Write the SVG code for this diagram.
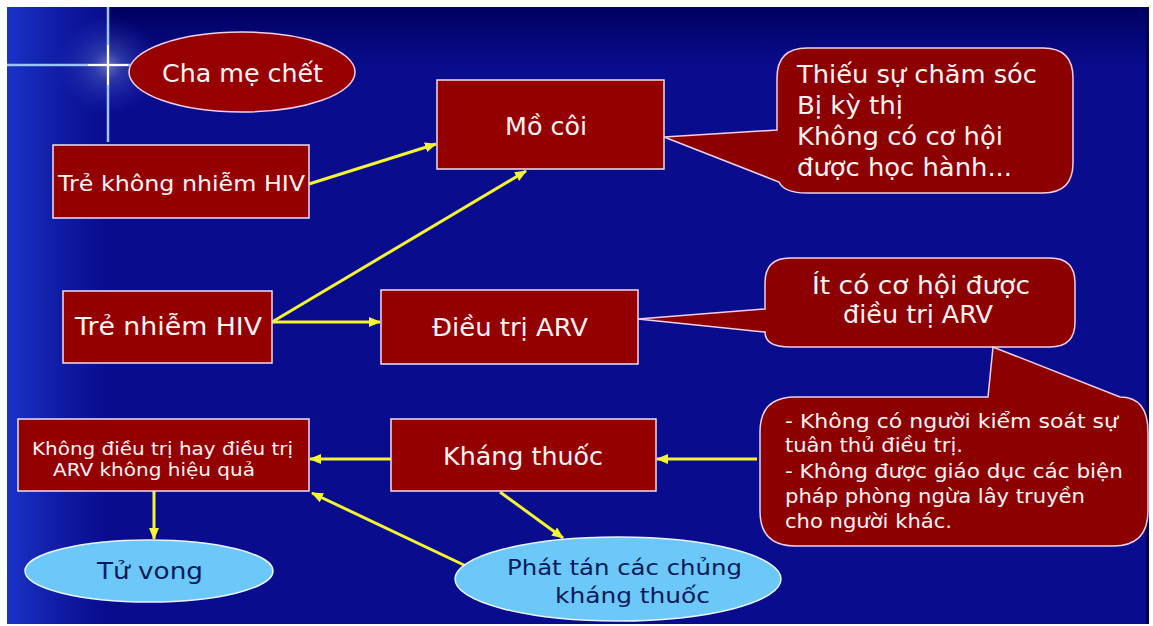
<svg xmlns="http://www.w3.org/2000/svg" width="1153" height="626" viewBox="0 0 1153 626">
<defs>
<linearGradient id="bgL" x1="0" y1="0" x2="1" y2="0">
<stop offset="0" stop-color="#1a34c8"/>
<stop offset="1" stop-color="#1228b4" stop-opacity="0"/>
</linearGradient>
<linearGradient id="bgT" x1="0" y1="0" x2="0" y2="1">
<stop offset="0" stop-color="#000060"/>
<stop offset="1" stop-color="#000060" stop-opacity="0"/>
</linearGradient>
<radialGradient id="glow">
<stop offset="0" stop-color="#ffffff" stop-opacity="0.9"/>
<stop offset="0.3" stop-color="#a0c8ff" stop-opacity="0.5"/>
<stop offset="1" stop-color="#4060ff" stop-opacity="0"/>
</radialGradient>
<marker id="ah" viewBox="0 0 12 10" refX="11" refY="5" markerWidth="12" markerHeight="10" markerUnits="userSpaceOnUse" orient="auto">
<path d="M0,0 L12,5 L0,10 Z" fill="#f4f430"/>
</marker>
<style>
.box{fill:#940000;stroke:#f0e0f0;stroke-width:1.5}
.call{fill:#8c0000;stroke:#f0d0e8;stroke-width:1.5}
.ell{fill:#960000;stroke:#f0d0e8;stroke-width:1.5}
.lb{fill:#6cc8f8;stroke:#e8f4ff;stroke-width:1.5}
.t{font-family:"DejaVu Sans","Liberation Sans",sans-serif;fill:#fff4f4}
.d{font-family:"DejaVu Sans","Liberation Sans",sans-serif;fill:#0a1a5a}
.ar{stroke:#f4f430;stroke-width:3;fill:none;marker-end:url(#ah)}
</style>
</defs>
<rect width="1153" height="626" fill="#ffffff"/>
<rect x="7" y="7" width="1142" height="617" fill="#0a0c8e"/>
<rect x="7" y="7" width="100" height="617" fill="url(#bgL)"/>
<rect x="107" y="7" width="1042" height="60" fill="url(#bgT)"/>
<rect x="1146" y="7" width="3" height="617" fill="#000050"/>
<g id="star">
<rect x="58" y="15" width="100" height="100" fill="url(#glow)" opacity="0.45"/>
<line x1="108" y1="7" x2="108" y2="142" stroke="#9cc4ff" stroke-width="2.5"/>
<line x1="7" y1="65" x2="130" y2="65" stroke="#9cc4ff" stroke-width="2.5"/>
<line x1="108" y1="45" x2="108" y2="85" stroke="#ffffff" stroke-width="2"/>
<line x1="88" y1="65" x2="128" y2="65" stroke="#ffffff" stroke-width="2"/>
</g>
<g id="connectors">
<line class="ar" x1="309" y1="184" x2="436" y2="144"/>
<line class="ar" x1="272" y1="322" x2="526" y2="171"/>
<line class="ar" x1="272" y1="322" x2="380" y2="322"/>
<line class="ar" x1="391" y1="459" x2="310" y2="459"/>
<line class="ar" x1="757" y1="459" x2="657" y2="459"/>
<line class="ar" x1="154" y1="491" x2="154" y2="539"/>
<line class="ar" x1="500" y1="492" x2="563" y2="538"/>
<line class="ar" x1="466" y1="566" x2="312" y2="493"/>
</g>
<g id="n-chame">
<ellipse class="ell" cx="242" cy="72" rx="113" ry="40"/>
<text class="t" x="162" y="82" font-size="25" textLength="161" lengthAdjust="spacingAndGlyphs">Cha mẹ chết</text>
</g>
<g id="n-trekhong">
<rect class="box" x="53" y="145" width="256" height="73"/>
<text class="t" x="58" y="191" font-size="22" textLength="247" lengthAdjust="spacingAndGlyphs">Trẻ không nhiễm HIV</text>
</g>
<g id="n-mocoi">
<rect class="box" x="437" y="80" width="227" height="89"/>
<text class="t" x="505" y="135" font-size="24" textLength="82" lengthAdjust="spacingAndGlyphs">Mồ côi</text>
</g>
<g id="n-trenhiem">
<rect class="box" x="63" y="291" width="209" height="72"/>
<text class="t" x="75" y="335" font-size="24" textLength="187" lengthAdjust="spacingAndGlyphs">Trẻ nhiễm HIV</text>
</g>
<g id="n-dieutri">
<rect class="box" x="381" y="290" width="257" height="74"/>
<text class="t" x="432" y="336" font-size="24" textLength="156" lengthAdjust="spacingAndGlyphs">Điều trị ARV</text>
</g>
<g id="n-khongdieutri">
<rect class="box" x="18" y="419" width="291" height="72"/>
<text class="t" x="32" y="455" font-size="18" textLength="261" lengthAdjust="spacingAndGlyphs">Không điều trị hay điều trị</text>
<text class="t" x="53" y="476" font-size="18" textLength="202" lengthAdjust="spacingAndGlyphs">ARV  không hiệu quả</text>
</g>
<g id="n-khang">
<rect class="box" x="391" y="419" width="265" height="72"/>
<text class="t" x="443" y="465" font-size="24" textLength="160" lengthAdjust="spacingAndGlyphs">Kháng thuốc</text>
</g>
<g id="n-tuvong">
<ellipse class="lb" cx="149" cy="571" rx="124" ry="31"/>
<text class="d" x="97" y="579" font-size="23" textLength="106" lengthAdjust="spacingAndGlyphs">Tử vong</text>
</g>
<g id="n-phattan">
<ellipse class="lb" cx="618" cy="579" rx="163" ry="42"/>
<text class="d" x="507" y="575" font-size="22" textLength="235" lengthAdjust="spacingAndGlyphs">Phát tán các chủng</text>
<text class="d" x="555" y="603" font-size="22" textLength="155" lengthAdjust="spacingAndGlyphs">kháng thuốc</text>
</g>
<g id="n-callout1">
<path class="call" stroke="none" d="M807 48 H1043 Q1073 48 1073 78 V163 Q1073 193 1043 193 H807 Q784 193 779 182 L664 137 L777 130 V78 Q777 48 807 48 Z"/>
<text class="t" x="797" y="83" font-size="24" textLength="240" lengthAdjust="spacingAndGlyphs">Thiếu sự chăm sóc</text>
<text class="t" x="797" y="114" font-size="24" textLength="106" lengthAdjust="spacingAndGlyphs">Bị kỳ thị</text>
<text class="t" x="797" y="145" font-size="24" textLength="206" lengthAdjust="spacingAndGlyphs">Không có cơ hội</text>
<text class="t" x="797" y="176" font-size="24" textLength="215" lengthAdjust="spacingAndGlyphs">được học hành...</text>
</g>
<g id="n-callout2">
<path class="call" d="M790 258 H1050 Q1075 258 1075 283 V322 Q1075 347 1050 347 H790 Q765 347 765 332 L638 319 L765 309 V283 Q765 258 790 258 Z"/>
<text class="t" x="812" y="294" font-size="25" textLength="218" lengthAdjust="spacingAndGlyphs">Ít có cơ hội được</text>
<text class="t" x="843" y="323" font-size="25" textLength="150" lengthAdjust="spacingAndGlyphs">điều trị ARV</text>
</g>
<g id="n-callout3">
<path class="call" d="M795 397 H988 L993 347 L1120 397 Q1148 397 1148 432 V511 Q1148 546 1113 546 H795 Q760 546 760 511 V432 Q760 397 795 397 Z"/>
<text class="t" x="785" y="428" font-size="20" textLength="333" lengthAdjust="spacingAndGlyphs">- Không có người kiểm soát sự</text>
<text class="t" x="785" y="452" font-size="20" textLength="178" lengthAdjust="spacingAndGlyphs">tuân thủ điều trị.</text>
<text class="t" x="785" y="478" font-size="20" textLength="338" lengthAdjust="spacingAndGlyphs">- Không được giáo dục các biện</text>
<text class="t" x="785" y="503" font-size="20" textLength="300" lengthAdjust="spacingAndGlyphs">pháp phòng ngừa lây truyền</text>
<text class="t" x="785" y="528" font-size="20" textLength="167" lengthAdjust="spacingAndGlyphs">cho người khác.</text>
</g>
</svg>
